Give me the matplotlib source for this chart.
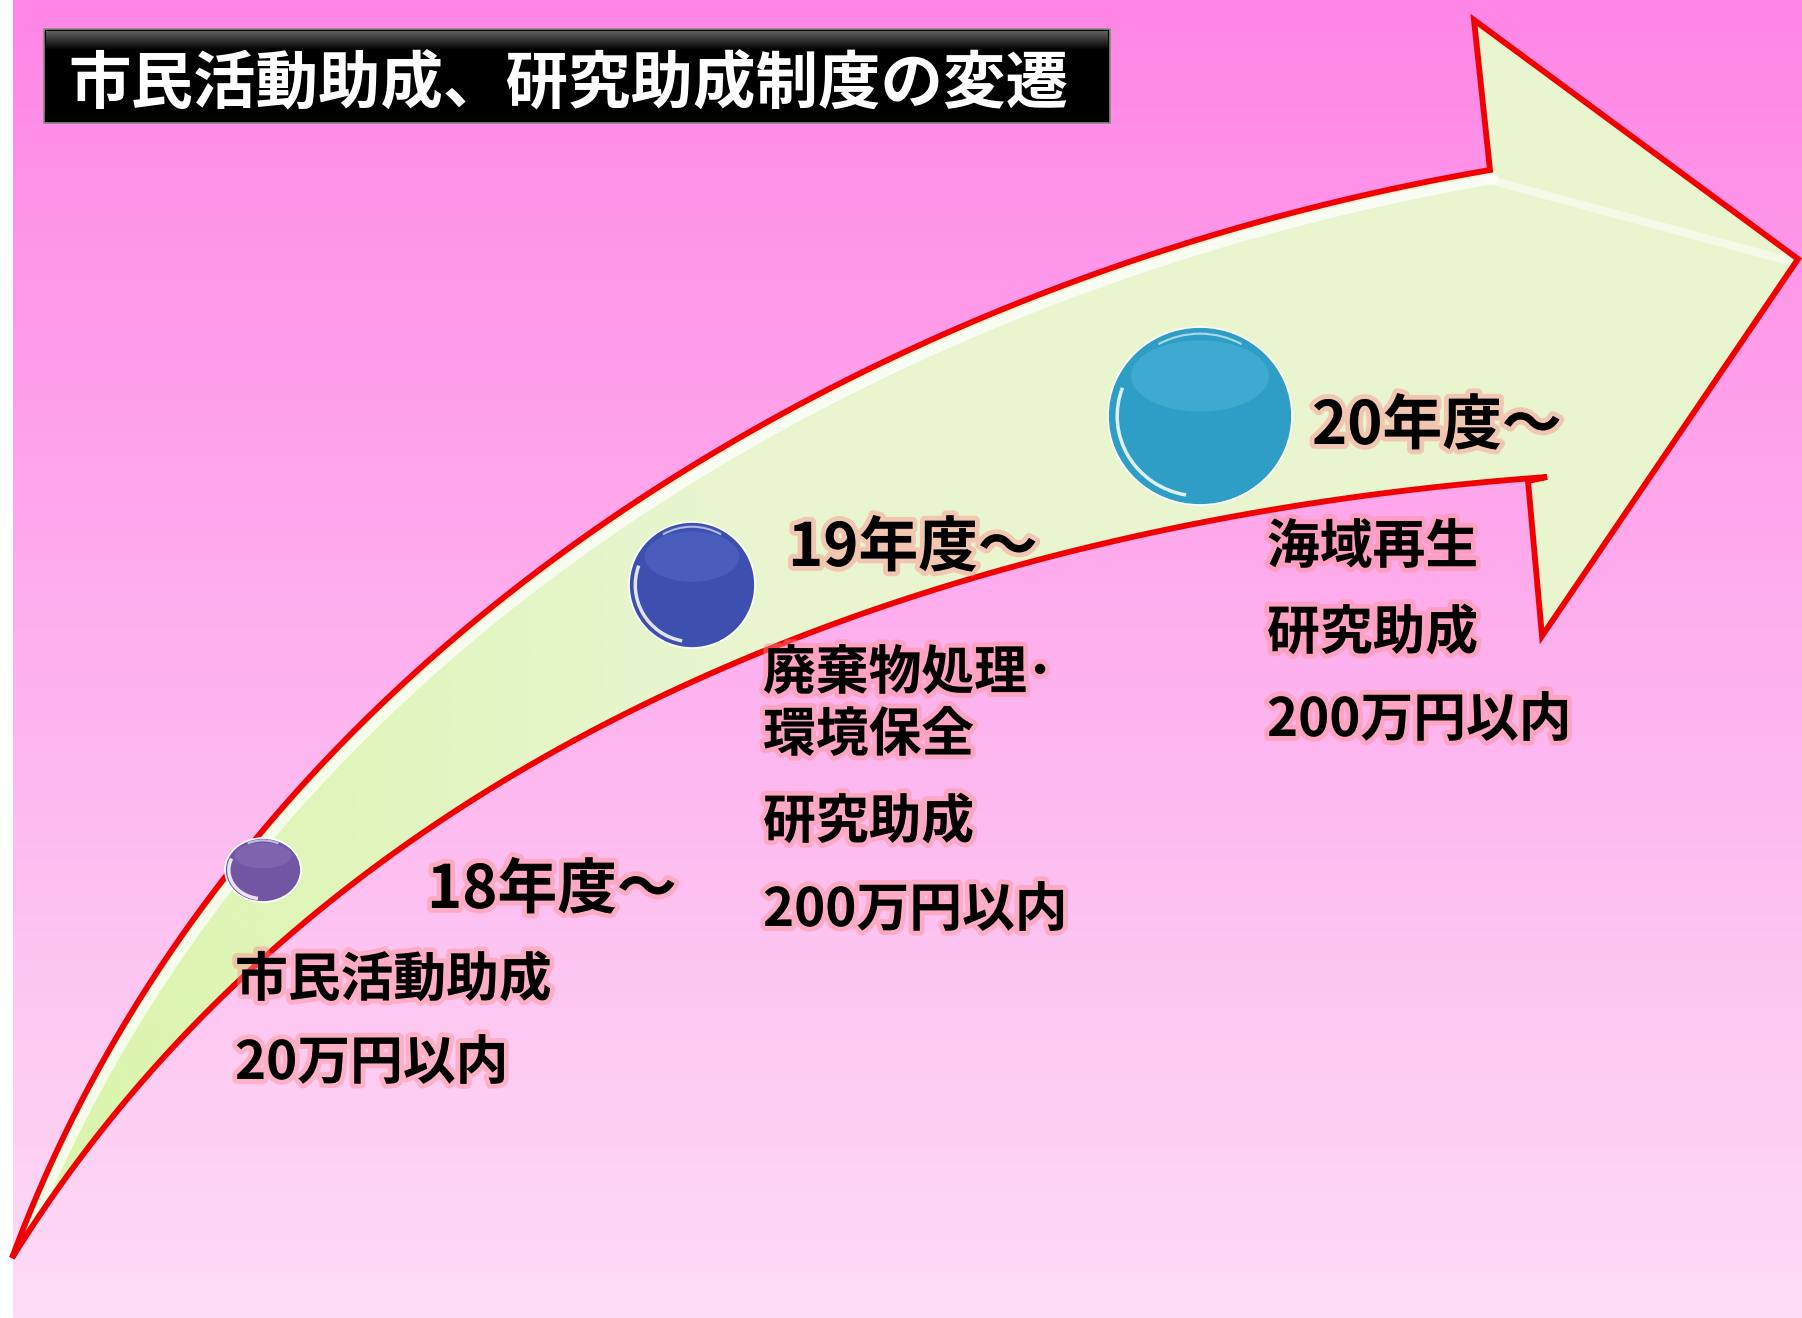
import numpy as np
import matplotlib.pyplot as plt
from matplotlib.patches import Polygon, Ellipse, Arc, Rectangle
import matplotlib.patheffects as pe

plt.rcParams['font.family'] = ['Noto Sans CJK JP', 'DejaVu Sans']

# canvas size in pixels
W, H = 1802, 1318

title = "市民活動助成、研究助成制度の変遷"

# outline of the curved arrow (pixel coords, y downward)
upper_edge_x = [12, 57, 93, 143, 200, 250, 350, 450, 550, 650, 733, 800, 900, 1000, 1100, 1200, 1283, 1490]
upper_edge_y = [1258, 1150, 1100, 1000, 900, 833, 740, 637, 560, 500, 452, 400, 348, 307, 270, 243, 220, 170]
lower_edge_x = [12, 87, 143, 217, 300, 450, 550, 650, 750, 900, 1100, 1257, 1547]
lower_edge_y = [1258, 1150, 1100, 1010, 927, 810, 743, 693, 657, 605, 547, 520, 477]
head_x = [1528, 1542, 1798, 1474, 1490]
head_y = [481, 636, 259, 20, 170]

# stages
bead_x = [263, 692, 1200]
bead_y = [870, 585, 416]
bead_rx = [38, 63, 92]
bead_ry = [32, 63, 89]
bead_colors = ['#7256a4', '#3d50b0', '#2f9ec6']
bead_light = ['#a58ad0', '#6f86e0', '#6fd0f0']

years = ["18年度～", "19年度～", "20年度～"]
year_x = [427, 788, 1312]
year_y = [908, 566, 444]

notes = [
    ["市民活動助成", "20万円以内"],
    ["廃棄物処理･", "環境保全", "研究助成", "200万円以内"],
    ["海域再生", "研究助成", "200万円以内"],
]
note_x = [235, 763, 1267]
note_y = [[996, 1079], [689, 751, 838, 926], [563, 649, 736]]


def bezier_fit(xs, ys, n=300):
    # least-squares cubic bezier through the traced points, ends fixed
    p = np.column_stack([xs, ys]).astype(float)
    d = np.r_[0, np.cumsum(np.hypot(*np.diff(p, axis=0).T))]
    t = d / d[-1]
    b = np.column_stack([(1 - t) ** 3, 3 * t * (1 - t) ** 2, 3 * t ** 2 * (1 - t), t ** 3])
    rhs = p - np.outer(b[:, 0], p[0]) - np.outer(b[:, 3], p[-1])
    ctrl, *_ = np.linalg.lstsq(b[:, 1:3], rhs, rcond=None)
    cp = np.vstack([p[0], ctrl, p[-1]])
    s = np.linspace(0, 1, n)[:, None]
    return ((1 - s) ** 3 * cp[0] + 3 * s * (1 - s) ** 2 * cp[1]
            + 3 * s ** 2 * (1 - s) * cp[2] + s ** 3 * cp[3])


fig = plt.figure(figsize=(W / 100, H / 100), dpi=100, facecolor='white')
ax = fig.add_axes([0, 0, 1, 1])
ax.set_xlim(0, W)
ax.set_ylim(H, 0)
ax.axis('off')

# pink background gradient
top = np.array([255, 134, 230]) / 255
bottom = np.array([253, 220, 246]) / 255
t = np.linspace(0, 1, 256)[:, None]
grad = (top * (1 - t) + bottom * t)[:, None, :]
ax.imshow(grad, extent=[13, W, H, 0], aspect='auto', zorder=0)

# arrow body
upper = bezier_fit(upper_edge_x, upper_edge_y)
lower = bezier_fit(lower_edge_x, lower_edge_y)
outline = np.vstack([lower, np.column_stack([head_x, head_y]), upper[::-1]])
arrow = Polygon(outline, closed=True, facecolor='#e8f5cf', edgecolor='none', zorder=2)
ax.add_patch(arrow)

# greener towards the tail
fade = np.zeros((1, 256, 4))
fade[..., :3] = np.array([218, 245, 170]) / 255
fade[..., 3] = np.linspace(1, 0, 256)
im = ax.imshow(fade, extent=[12, 700, H, 0], aspect='auto', zorder=2.1)
im.set_clip_path(arrow)

# soft highlight just inside the upper edge
hl, = ax.plot(upper[:, 0] + 4, upper[:, 1] + 9, color='white', lw=7, alpha=0.75,
              solid_capstyle='round', zorder=2.5)
hl.set_clip_path(arrow)
hl2, = ax.plot([1490, 1800], [180, 264], color='white', lw=6, alpha=0.5, zorder=2.5)
hl2.set_clip_path(arrow)
ax.add_patch(Polygon(outline, closed=True, facecolor='none', edgecolor='#f00000',
                     linewidth=4.2, joinstyle='miter', zorder=3))

# glossy beads
for cx, cy, rx, ry, c, lc in zip(bead_x, bead_y, bead_rx, bead_ry, bead_colors, bead_light):
    ax.add_patch(Ellipse((cx, cy), 2 * rx, 2 * ry, facecolor=c, edgecolor='#ffffff',
                         linewidth=1.2, zorder=4))
    ax.add_patch(Ellipse((cx, cy - 0.45 * ry), 1.5 * rx, 0.8 * ry, facecolor=lc,
                         edgecolor='none', alpha=0.25, zorder=4.1))
    ax.add_patch(Arc((cx, cy), 1.8 * rx, 1.8 * ry, theta1=100, theta2=200, color='white',
                     lw=2.5, alpha=0.85, zorder=4.2))
    ax.add_patch(Arc((cx, cy), 1.85 * rx, 1.85 * ry, theta1=240, theta2=300, color='white',
                     lw=1.5, alpha=0.6, zorder=4.2))

# title box
ax.add_patch(Rectangle((44, 29), 1066, 94, facecolor='black', edgecolor='#888888',
                       linewidth=1.2, zorder=5))
shade = np.linspace(0.38, 0.0, 64)[:, None, None] * np.ones((1, 1, 3))
ax.imshow(shade, extent=[46, 1108, 50, 31], aspect='auto', zorder=5.1)
ax.text(68, 103, title, color='white', fontsize=45, fontweight='bold',
        va='baseline', ha='left', zorder=6)

glow = [pe.withStroke(linewidth=7, foreground='#ff9090', alpha=0.45)]

for label, x, y in zip(years, year_x, year_y):
    ax.text(x, y, label, fontsize=43, fontweight='bold', color='black',
            va='baseline', ha='left', zorder=6, path_effects=glow)

for lines, x, ys in zip(notes, note_x, note_y):
    for line, y in zip(lines, ys):
        ax.text(x, y, line, fontsize=38, fontweight='bold', color='black',
                va='baseline', ha='left', zorder=6, path_effects=glow)

fig.savefig('out.png', dpi=100, facecolor='white')
